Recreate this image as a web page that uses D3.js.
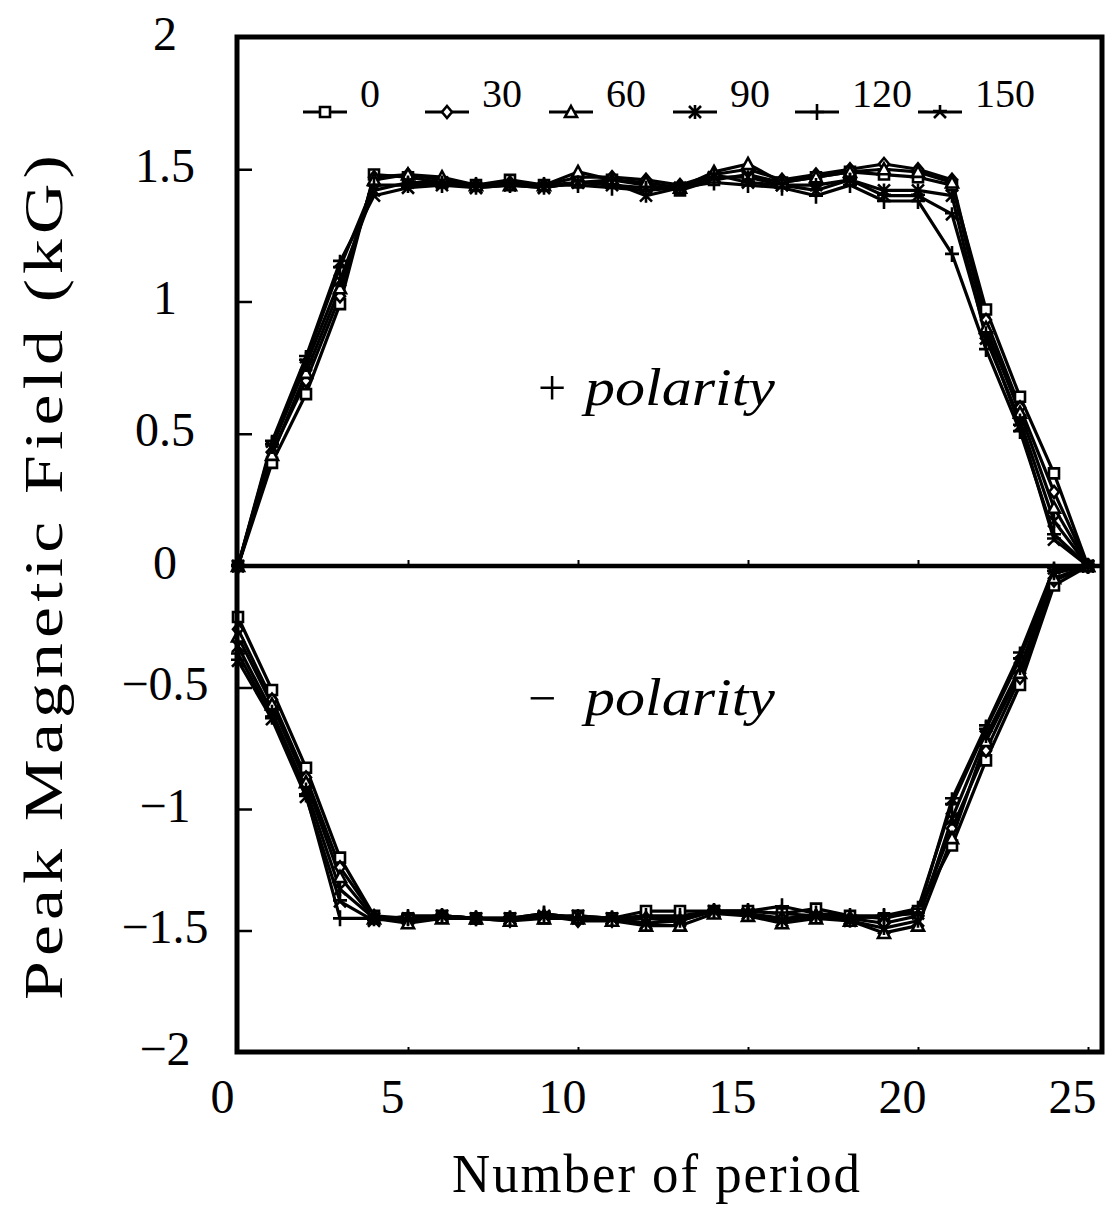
<!DOCTYPE html>
<html>
<head>
<meta charset="utf-8">
<script src="https://cdn.jsdelivr.net/npm/d3@7"></script>
<style>
  html, body { margin: 0; padding: 0; background: #fff; }
  svg { display: block; }
  text { font-family: "Liberation Serif", "Times New Roman", serif; fill: #000; }
</style>
</head>
<body>
<svg id="chart" width="1110" height="1209"></svg>
<script>
// ---------- data ----------
const periods = [0,1,2,3,4,5,6,7,8,9,10,11,12,13,14,15,16,17,18,19,20,21,22,23,24,25];
const seriesNames = ["0","30","60","90","120","150"];
const xTicks = [0,5,10,15,20,25];
const yTicks = [2,1.5,1,0.5,0,-0.5,-1,-1.5,-2];

// + polarity
const pos0   = [0,0.39,0.65,0.99,1.48,1.47,1.45,1.44,1.46,1.44,1.45,1.46,1.44,1.42,1.46,1.48,1.45,1.47,1.49,1.48,1.47,1.44,0.97,0.64,0.35,0];
const pos30  = [0,0.43,0.70,1.02,1.47,1.48,1.46,1.44,1.45,1.44,1.47,1.47,1.46,1.44,1.48,1.50,1.46,1.48,1.50,1.52,1.50,1.46,0.93,0.60,0.28,0];
const pos60  = [0,0.42,0.73,1.05,1.46,1.48,1.47,1.44,1.44,1.44,1.49,1.46,1.45,1.43,1.49,1.52,1.45,1.47,1.49,1.50,1.49,1.45,0.90,0.58,0.22,0];
const pos90  = [0,0.45,0.76,1.08,1.42,1.45,1.45,1.43,1.44,1.43,1.45,1.45,1.40,1.43,1.47,1.47,1.44,1.42,1.46,1.42,1.42,1.40,0.86,0.55,0.17,0];
const pos120 = [0,0.46,0.78,1.13,1.44,1.44,1.44,1.44,1.44,1.44,1.44,1.43,1.42,1.43,1.45,1.44,1.43,1.40,1.44,1.38,1.38,1.18,0.82,0.51,0.12,0];
const pos150 = [0,0.47,0.79,1.15,1.40,1.43,1.44,1.43,1.44,1.43,1.45,1.44,1.43,1.43,1.48,1.45,1.44,1.44,1.46,1.40,1.40,1.33,0.88,0.53,0.10,0];

// - polarity
const neg0   = [-0.21,-0.51,-0.83,-1.20,-1.44,-1.45,-1.44,-1.45,-1.45,-1.45,-1.44,-1.45,-1.42,-1.42,-1.42,-1.42,-1.43,-1.41,-1.44,-1.45,-1.42,-1.15,-0.80,-0.49,-0.08,0];
const neg30  = [-0.26,-0.55,-0.87,-1.24,-1.44,-1.46,-1.44,-1.45,-1.46,-1.44,-1.46,-1.46,-1.45,-1.46,-1.42,-1.43,-1.45,-1.44,-1.45,-1.47,-1.44,-1.08,-0.76,-0.46,-0.06,0];
const neg60  = [-0.29,-0.57,-0.89,-1.28,-1.45,-1.47,-1.45,-1.45,-1.46,-1.45,-1.45,-1.46,-1.48,-1.48,-1.43,-1.44,-1.47,-1.45,-1.46,-1.51,-1.48,-1.12,-0.72,-0.44,-0.05,0];
const neg90  = [-0.33,-0.60,-0.92,-1.33,-1.45,-1.45,-1.44,-1.45,-1.45,-1.44,-1.44,-1.45,-1.47,-1.46,-1.42,-1.43,-1.46,-1.44,-1.46,-1.49,-1.46,-1.04,-0.70,-0.42,-0.03,0];
const neg120 = [-0.36,-0.62,-0.94,-1.45,-1.45,-1.45,-1.44,-1.45,-1.45,-1.43,-1.45,-1.45,-1.44,-1.44,-1.42,-1.42,-1.40,-1.43,-1.44,-1.44,-1.41,-0.98,-0.67,-0.38,-0.02,0];
const neg150 = [-0.39,-0.63,-0.95,-1.38,-1.46,-1.44,-1.44,-1.45,-1.45,-1.43,-1.45,-1.45,-1.45,-1.45,-1.42,-1.42,-1.43,-1.44,-1.45,-1.44,-1.43,-0.96,-0.66,-0.36,-0.01,0];

const posSeries = [pos0,pos30,pos60,pos90,pos120,pos150];
const negSeries = [neg0,neg30,neg60,neg90,neg120,neg150];

// ---------- layout ----------
const L = 237, R = 1102, T = 37, B = 1052;
const x = d3.scaleLinear().domain([0,25]).range([238,1088]);
const y = d3.scaleLinear().domain([2,0,-2]).range([T,566,B]);

const svg = d3.select("#chart");

// marker shapes
const markerDefs = [
  {path:"M-5,-5H5V5H-5Z", fill:true},
  {path:"M0,-6L5,0L0,6L-5,0Z", fill:true},
  {path:"M0,-6L6,5H-6Z", fill:true},
  {path:"M-6,-6L6,6M-6,6L6,-6M0,-7V7", fill:false},
  {path:"M-7,0H7M0,-8V8", fill:false},
  {path:"M0,-7V0L-6,6M0,0L6,6M-7,-1H7", fill:false}
];
function drawMarker(g, i, cx, cy) {
  const m = markerDefs[i];
  g.append("path")
    .attr("d", m.path)
    .attr("transform", `translate(${cx},${cy})`)
    .attr("fill", m.fill ? "#fff" : "none")
    .attr("stroke", "#000")
    .attr("stroke-width", 2.6);
}

// zero line
svg.append("line").attr("x1", L).attr("x2", R).attr("y1", y(0)).attr("y2", y(0))
  .attr("stroke", "#000").attr("stroke-width", 4.5);
// small ticks on zero line
const zeroAxis = svg.append("g").attr("transform", `translate(0,${y(0)})`)
  .call(d3.axisBottom(x).tickValues([5,10,15,20]).tickSize(-6).tickFormat(""));
zeroAxis.select(".domain").remove();
zeroAxis.selectAll("line").attr("stroke-width", 2);

// series lines and markers
const line = d3.line().x((d,i) => x(periods[i])).y(d => y(d));
const plot = svg.append("g");
[posSeries, negSeries].forEach(group => {
  group.forEach((vals, si) => {
    plot.append("path").attr("d", line(vals))
      .attr("fill", "none").attr("stroke", "#000").attr("stroke-width", 3.2)
      .attr("stroke-linejoin", "round");
  });
  group.forEach((vals, si) => {
    vals.forEach((v, i) => drawMarker(plot, si, x(periods[i]), y(v)));
  });
});

// frame
svg.append("rect").attr("x", L).attr("y", T).attr("width", R - L).attr("height", B - T)
  .attr("fill", "none").attr("stroke", "#000").attr("stroke-width", 5);

// left axis
const fmt = d => d < 0 ? "\u2212" + Math.abs(d) : String(d);
const yAxis = svg.append("g").attr("transform", `translate(${L},0)`)
  .call(d3.axisLeft(y).tickValues(yTicks).tickSize(-15).tickFormat(fmt));
yAxis.select(".domain").remove();
yAxis.selectAll(".tick line").attr("stroke-width", 2.5)
  .filter(d => d === 2 || d === -2 || d === 0).remove();
yAxis.selectAll(".tick text")
  .attr("x", 165 - L).attr("dy", 12).attr("text-anchor", "middle")
  .style("font-family", "Liberation Serif").style("font-size", "48px").attr("fill", "#000");

// bottom axis
const xAxis = svg.append("g").attr("transform", `translate(0,${B})`)
  .call(d3.axisBottom(x).tickValues(xTicks).tickSize(-5).tickFormat(d => String(d)));
xAxis.select(".domain").remove();
xAxis.selectAll(".tick line").attr("stroke-width", 2).filter(d => d === 0).remove();
xAxis.selectAll(".tick text")
  .attr("x", -16).attr("y", 61).attr("dy", 0).attr("text-anchor", "middle")
  .style("font-family", "Liberation Serif").style("font-size", "48px").attr("fill", "#000");

// legend
const legendX = [325, 447, 571, 695, 817, 940];
const lg = svg.append("g");
seriesNames.forEach((name, i) => {
  const cx = legendX[i], cy = 112;
  lg.append("line").attr("x1", cx - 22).attr("x2", cx + 22).attr("y1", cy).attr("y2", cy)
    .attr("stroke", "#000").attr("stroke-width", 3.2);
  drawMarker(lg, i, cx, cy);
  lg.append("text").attr("x", cx + 35).attr("y", 107).style("font-size", "40px").text(name);
});

// annotations
const ann = svg.append("g");
ann.append("text").attr("x", 538).attr("y", 405).style("font-size", "50px").text("+");
ann.append("text").attr("x", 585).attr("y", 405).style("font-size", "52px").style("font-style", "italic")
  .attr("textLength", 190).attr("lengthAdjust", "spacingAndGlyphs").text("polarity");
ann.append("text").attr("x", 528).attr("y", 715).style("font-size", "50px").text("\u2212");
ann.append("text").attr("x", 585).attr("y", 715).style("font-size", "52px").style("font-style", "italic")
  .attr("textLength", 190).attr("lengthAdjust", "spacingAndGlyphs").text("polarity");

// axis titles
svg.append("text").attr("x", 657).attr("y", 1192).attr("text-anchor", "middle")
  .style("font-size", "54px").style("letter-spacing", "2px")
  .attr("textLength", 410).attr("lengthAdjust", "spacingAndGlyphs")
  .text("Number of period");
svg.append("text").attr("transform", "translate(62,575) rotate(-90)").attr("text-anchor", "middle")
  .style("font-size", "54px").style("letter-spacing", "4px")
  .attr("textLength", 850).attr("lengthAdjust", "spacingAndGlyphs")
  .text("Peak Magnetic Field (kG)");
</script>
</body>
</html>
